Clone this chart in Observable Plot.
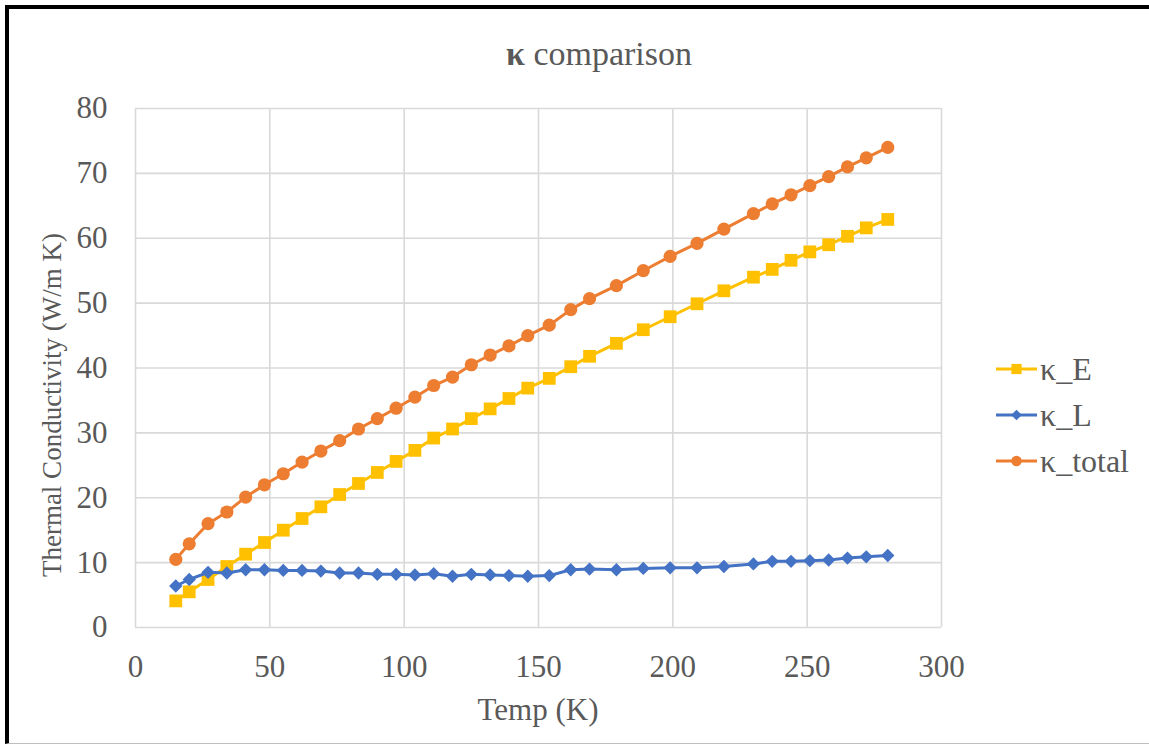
<!DOCTYPE html>
<html>
<head>
<meta charset="utf-8">
<script src="https://cdn.jsdelivr.net/npm/d3@7"></script>
<script src="https://cdn.jsdelivr.net/npm/@observablehq/plot@0.6"></script>
<style>
  html, body { margin: 0; padding: 0; background: #fff; }
  #wrap { position: relative; width: 1149px; height: 749px; overflow: hidden; font-family: "Liberation Serif", "Times New Roman", Times, serif; color: #595959; }
  #frame { position: absolute; left: 5px; top: 5px; width: 1160px; height: 739px; border-left: 4px solid #000; border-top: 4px solid #000; border-bottom: 1px solid #bfbfbf; box-sizing: border-box; }
  #chart { position: absolute; left: 0; top: 0; }
  .lbl { position: absolute; white-space: nowrap; line-height: 1; }
  #title { left: 599px; top: 37px; transform: translateX(-50%); font-size: 34px; }
  #title b { font-weight: bold; }
  #xtitle { left: 538px; top: 694px; transform: translateX(-50%); font-size: 31px; }
  #ytitle { left: 52px; top: 405px; transform: translate(-50%, -50%) rotate(-90deg); font-size: 27px; }
  #legend { position: absolute; left: 995px; top: 346px; }
  .item { display: flex; align-items: center; height: 46px; font-size: 32px; }
  .item svg { margin-right: 2px; }
</style>
</head>
<body>
<div id="wrap">
  <div id="frame"></div>
  <div id="chart"></div>
  <div class="lbl" id="title"><b>κ</b> comparison</div>
  <div class="lbl" id="xtitle">Temp (K)</div>
  <div class="lbl" id="ytitle">Thermal Conductivity (W/m K)</div>
  <div id="legend"></div>
</div>
<script>
// Temperature (K)
const temp = [15, 20, 27, 34, 41, 48, 55, 62, 69, 76, 83, 90, 97, 104, 111, 118, 125, 132, 139, 146, 154, 162, 169, 179, 189, 199, 209, 219, 230, 237, 244, 251, 258, 265, 272, 280];
// Electronic thermal conductivity (W/m K)
const kappaE = [4.1, 5.5, 7.4, 9.4, 11.3, 13.1, 15.0, 16.8, 18.6, 20.5, 22.2, 23.9, 25.6, 27.3, 29.2, 30.6, 32.2, 33.7, 35.3, 36.9, 38.4, 40.2, 41.8, 43.8, 45.9, 47.9, 49.9, 51.9, 54.0, 55.2, 56.6, 57.9, 59.0, 60.3, 61.6, 62.9];
// Lattice thermal conductivity (W/m K)
const kappaL = [6.4, 7.4, 8.5, 8.4, 8.9, 8.9, 8.8, 8.8, 8.7, 8.4, 8.4, 8.2, 8.2, 8.1, 8.3, 7.9, 8.2, 8.1, 8.0, 7.9, 8.0, 8.9, 9.0, 8.9, 9.1, 9.2, 9.2, 9.4, 9.8, 10.2, 10.2, 10.3, 10.4, 10.7, 10.9, 11.1];
// Total thermal conductivity (W/m K)
const kappaTotal = [10.5, 12.9, 16.0, 17.8, 20.1, 22.0, 23.7, 25.5, 27.2, 28.8, 30.6, 32.2, 33.8, 35.5, 37.3, 38.6, 40.5, 42.0, 43.4, 45.0, 46.6, 49.0, 50.7, 52.7, 55.0, 57.2, 59.2, 61.4, 63.8, 65.3, 66.7, 68.1, 69.5, 71.0, 72.4, 74.0];

const seriesNames = ["κ_E", "κ_L", "κ_total"];
const seriesColors = ["#FFC000", "#4472C4", "#ED7D31"];
const seriesSymbols = ["square", "diamond2", "circle"];
const seriesSizes = [7.2, 6.0, 6.6];
const xTicks = [0, 50, 100, 150, 200, 250, 300];
const yTicks = [0, 10, 20, 30, 40, 50, 60, 70, 80];

const seriesValues = [kappaE, kappaL, kappaTotal];
const series = seriesNames.map((name, k) => ({
  name,
  color: seriesColors[k],
  symbol: seriesSymbols[k],
  r: seriesSizes[k],
  rows: temp.map((t, i) => ({T: t, v: seriesValues[k][i]}))
}));

const gridColor = "#d9d9d9";

const marks = [
  Plot.gridX(xTicks, {stroke: gridColor, strokeOpacity: 1, strokeWidth: 1.6}),
  Plot.gridY(yTicks, {stroke: gridColor, strokeOpacity: 1, strokeWidth: 1.6}),
  Plot.axisY(yTicks, {tickSize: 0, tickPadding: 28, fontSize: 31, fill: "#595959"}),
  Plot.axisX(xTicks, {tickSize: 0, tickPadding: 27, fontSize: 31, fill: "#595959"})
];
for (const s of series) {
  marks.push(Plot.line(s.rows, {x: "T", y: "v", stroke: s.color, strokeWidth: 3}));
  marks.push(Plot.dot(s.rows, {x: "T", y: "v", fill: s.color, symbol: s.symbol, r: s.r, stroke: "none"}));
}

const chart = Plot.plot({
  width: 1149,
  height: 749,
  marginLeft: 135,
  marginRight: 208,
  marginTop: 108,
  marginBottom: 122,
  style: {background: "transparent", fontFamily: "'Liberation Serif', 'Times New Roman', Times, serif", color: "#595959"},
  x: {domain: [0, 300], label: null},
  y: {domain: [0, 80], label: null},
  marks
});
document.getElementById("chart").append(chart);

// Legend: a short line with the series marker, then its name
const legend = d3.select("#legend");
for (const s of series) {
  const item = legend.append("div").attr("class", "item");
  const svg = item.append("svg").attr("width", 43).attr("height", 20);
  svg.append("line").attr("x1", 1).attr("x2", 42).attr("y1", 10).attr("y2", 10)
    .attr("stroke", s.color).attr("stroke-width", 3);
  const symType = {square: d3.symbolSquare, diamond2: d3.symbolDiamond2, circle: d3.symbolCircle}[s.symbol];
  const area = Math.PI * (s.r * 0.8) ** 2;
  svg.append("path").attr("transform", "translate(21.5,10)")
    .attr("d", d3.symbol(symType, area)()).attr("fill", s.color);
  item.append("span").text(s.name);
}
</script>
</body>
</html>
